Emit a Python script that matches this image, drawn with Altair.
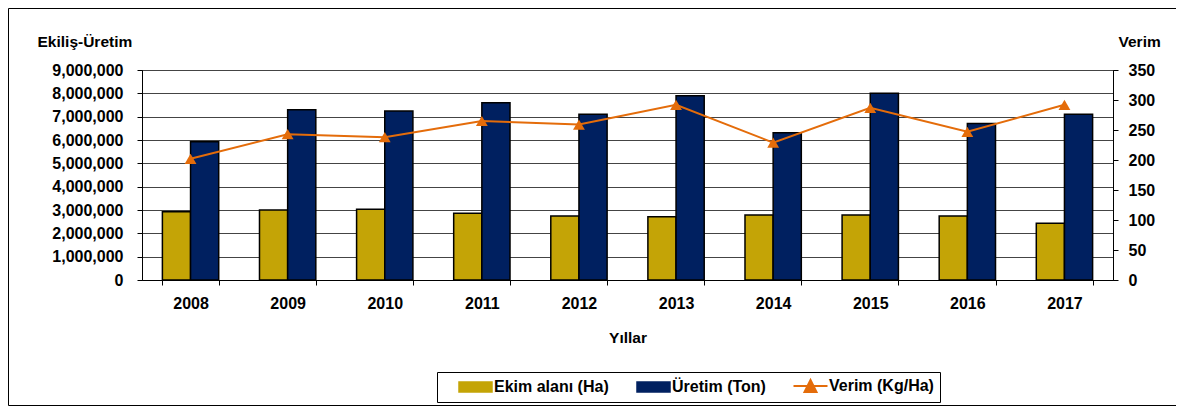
import altair as alt
import pandas as pd

years = ["2008", "2009", "2010", "2011", "2012", "2013", "2014", "2015", "2016", "2017"]
ekim_alani = [2930000, 3000000, 3030000, 2860000, 2740000, 2710000, 2790000, 2790000, 2740000, 2430000]
uretim = [5930000, 7300000, 7240000, 7600000, 7100000, 7900000, 6310000, 8000000, 6710000, 7100000]
verim = [202, 243, 238, 265, 259, 292, 229, 287, 247, 292]
left_ticks = [0, 1000000, 2000000, 3000000, 4000000, 5000000, 6000000, 7000000, 8000000, 9000000]
right_ticks = [0, 50, 100, 150, 200, 250, 300, 350]

S_EKIM = "Ekim alanı (Ha)"
S_URETIM = "Üretim (Ton)"
S_VERIM = "Verim (Kg/Ha)"
series = [S_EKIM, S_URETIM, S_VERIM]
colors = ["#C4A406", "#002060", "#E46C0A"]

FONT = "Liberation Sans"

bars_df = pd.DataFrame({
    "Yıl": years * 2,
    "Seri": [S_EKIM] * len(years) + [S_URETIM] * len(years),
    "Değer": ekim_alani + uretim,
})
line_df = pd.DataFrame({"Yıl": years, "Seri": [S_VERIM] * len(years), "Verim": verim})

BOX_PATH = "M-3.3,-1H3.3V1H-3.3Z"
VERIM_PATH = "M-3.4,0H3.4M0,-1.2L1.2,1.2H-1.2Z"
is_verim = f"datum.value === '{S_VERIM}'"

legend = alt.Legend(
    title=None, orient="none", legendX=295, legendY=302, direction="horizontal",
    symbolSize=100, symbolOffset=24.5, labelOffset=10.5, columnPadding=12,
    padding=6, strokeColor="black", fillColor="white",
    labelFont=FONT, labelFontSize=16, labelFontWeight="bold", labelColor="black",
    labelExpr=f"{is_verim} ? datum.label + '\u00a0\u00a0\u00a0' : datum.label",
    symbolType={"expr": f"{is_verim} ? '{VERIM_PATH}' : '{BOX_PATH}'"},
    symbolStrokeColor={"expr": f"{is_verim} ? '{colors[2]}' : 'black'"},
    symbolStrokeWidth={"expr": f"{is_verim} ? 2 : 1.5"},
    symbolOpacity=1,
)

color_scale = alt.Scale(domain=series, range=colors)

x_enc = alt.X(
    "Yıl:O",
    scale=alt.Scale(paddingInner=0.42, paddingOuter=0.21),
    axis=alt.Axis(title="Yıllar", labelAngle=0, tickBand="extent", tickSize=5,
                  labelPadding=23, labelBaseline="alphabetic", labelFontSize=16,
                  titleY=62, titleBaseline="alphabetic", grid=False),
)

bars = alt.Chart(bars_df).mark_bar(stroke="black", strokeWidth=1.5).encode(
    x=x_enc,
    xOffset=alt.XOffset("Seri:N", sort=[S_EKIM, S_URETIM],
                        scale=alt.Scale(paddingInner=0, paddingOuter=0)),
    y=alt.Y("Değer:Q", scale=alt.Scale(domain=[0, 9000000], nice=False),
            axis=alt.Axis(values=left_ticks, format=",d", title="Ekiliş-Üretim",
                          titleAngle=0, titleAlign="left", titleBaseline="alphabetic",
                          titleX=-105, titleY=-24, tickSize=5, labelPadding=14,
                          grid=True, gridColor="#444444", gridWidth=1)),
    color=alt.Color("Seri:N", scale=color_scale, legend=legend),
)

base_line = alt.Chart(line_df).encode(
    x=x_enc,
    y=alt.Y("Verim:Q", scale=alt.Scale(domain=[0, 350], nice=False),
            axis=alt.Axis(orient="right", values=right_ticks, title="Verim",
                          titleAngle=0, titleAlign="left", titleBaseline="alphabetic",
                          titleX=5, titleY=-24, tickSize=5, labelPadding=10, grid=False)),
    color=alt.Color("Seri:N", scale=color_scale, legend=legend),
)
line = base_line.mark_line(strokeWidth=2)
pts = base_line.mark_point(shape="triangle-up", filled=True, size=140, opacity=1)

frame_df = pd.DataFrame({"k": [0]})
frame_left = alt.Chart(frame_df).mark_rule(color="black", strokeWidth=1).encode(
    x=alt.value(-133.5), y=alt.value(-61.5), y2=alt.value(335.5))
frame_top = alt.Chart(frame_df).mark_rule(color="black", strokeWidth=1).encode(
    x=alt.value(-133.5), x2=alt.value(1034), y=alt.value(-61.5))
frame_bottom = alt.Chart(frame_df).mark_rule(color="black", strokeWidth=1).encode(
    x=alt.value(-133.5), x2=alt.value(1034), y=alt.value(335.5))

chart = alt.layer(
    frame_left, frame_top, frame_bottom, bars, alt.layer(line, pts)
).resolve_scale(y="independent").properties(
    width=971, height=210,
    autosize=alt.AutoSizeParams(type="none"),
    padding={"left": 134, "top": 62, "right": 63, "bottom": 126},
).configure_view(
    stroke="black", strokeWidth=1
).configure_axis(
    labelFont=FONT, labelFontSize=16, labelFontWeight="bold", labelColor="black",
    titleFont=FONT, titleFontSize=15.5, titleFontWeight="bold", titleColor="black",
    domainColor="black", domainWidth=1, tickColor="black",
)

chart.save("out.html", embed_options={"renderer": "svg", "actions": False})
